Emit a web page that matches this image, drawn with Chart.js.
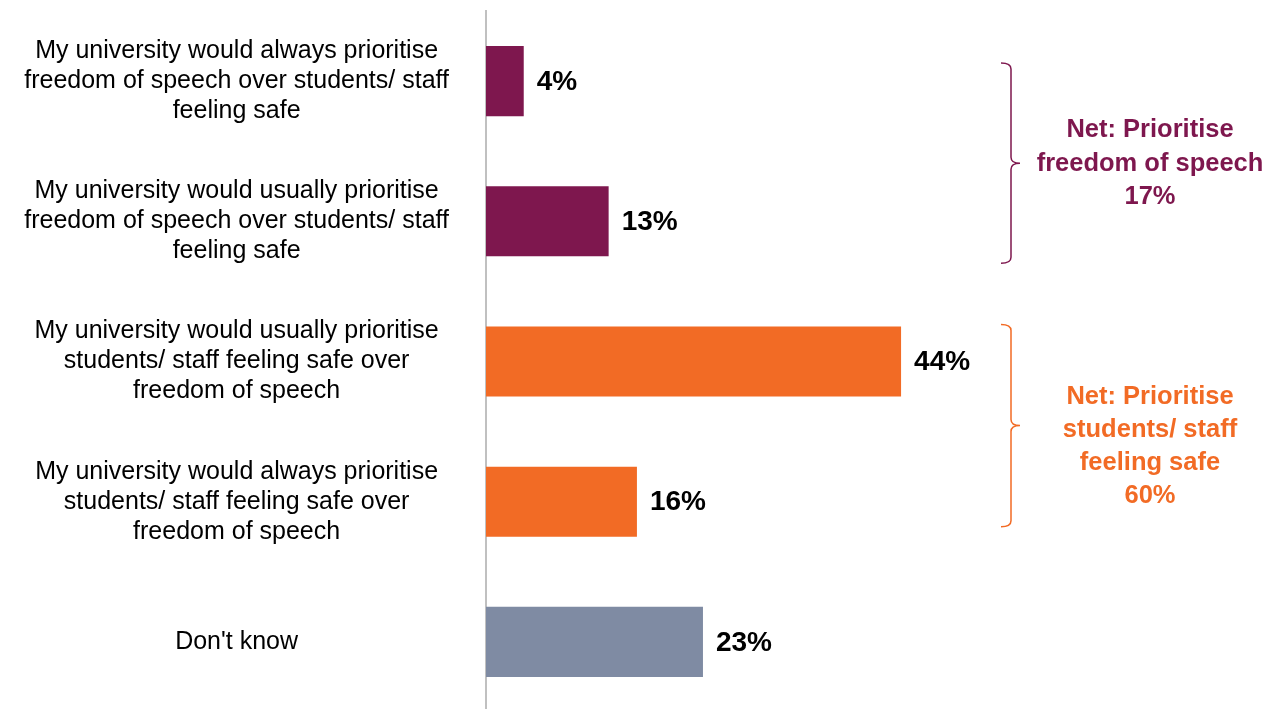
<!DOCTYPE html>
<html>
<head>
<meta charset="utf-8">
<script src="https://cdn.jsdelivr.net/npm/chart.js@4"></script>
<style>
  html, body { margin: 0; padding: 0; background: #fff; overflow: hidden; }
  #wrap { position: relative; width: 1279px; height: 712px; }
</style>
</head>
<body>
<div id="wrap"><canvas id="grafico"></canvas></div>
<script>
const categorias = [
  ["My university would always prioritise", "freedom of speech over students/ staff", "feeling safe"],
  ["My university would usually prioritise", "freedom of speech over students/ staff", "feeling safe"],
  ["My university would usually prioritise", "students/ staff feeling safe over", "freedom of speech"],
  ["My university would always prioritise", "students/ staff feeling safe over", "freedom of speech"],
  "Don't know"
];
const valores = [4, 13, 44, 16, 23];
const cores = ["#7E174E", "#7E174E", "#F26B25", "#F26B25", "#7F8BA3"];

// grupos "Net" com as barras que somam
const grupos = [
  { titulo: ["Net: Prioritise", "freedom of speech"], barras: [0, 1], cor: "#7E174E", topo: -18, base: 42, textoY: [130, 164, 197] },
  { titulo: ["Net: Prioritise", "students/ staff", "feeling safe"], barras: [2, 3], cor: "#F26B25", topo: -37, base: 25, textoY: [397, 430, 463, 496] }
];

const FONTE = "'Liberation Sans', Arial, sans-serif";

const rotulosValor = {
  id: "rotulosValor",
  afterDatasetsDraw(chart) {
    const ctx = chart.ctx;
    const meta = chart.getDatasetMeta(0);
    ctx.save();
    ctx.font = "bold 28px " + FONTE;
    ctx.fillStyle = "#000";
    ctx.textAlign = "left";
    ctx.textBaseline = "middle";
    meta.data.forEach((bar, i) => {
      ctx.fillText(valores[i] + "%", bar.x + 13, bar.y + 1);
    });
    ctx.restore();
  }
};

const chaves = {
  id: "chaves",
  afterDraw(chart) {
    const ctx = chart.ctx;
    const y = chart.scales.y;
    const xLinha = chart.chartArea.right - 41;
    grupos.forEach((g) => {
      const topo = y.getPixelForValue(g.barras[0]) + g.topo;
      const base = y.getPixelForValue(g.barras[g.barras.length - 1]) + g.base;
      const meio = (topo + base) / 2;
      ctx.save();
      ctx.strokeStyle = g.cor;
      ctx.lineWidth = 1.5;
      ctx.beginPath();
      ctx.moveTo(xLinha - 10, topo);
      ctx.quadraticCurveTo(xLinha, topo, xLinha, topo + 6);
      ctx.lineTo(xLinha, meio - 6);
      ctx.quadraticCurveTo(xLinha, meio, xLinha + 9, meio);
      ctx.quadraticCurveTo(xLinha, meio, xLinha, meio + 6);
      ctx.lineTo(xLinha, base - 6);
      ctx.quadraticCurveTo(xLinha, base, xLinha - 10, base);
      ctx.stroke();

      const total = g.barras.reduce((s, i) => s + valores[i], 0);
      const linhas = g.titulo.concat([total + "%"]);
      ctx.font = "bold 25.5px " + FONTE;
      ctx.fillStyle = g.cor;
      ctx.textAlign = "center";
      ctx.textBaseline = "middle";
      linhas.forEach((t, i) => ctx.fillText(t, xLinha + 139, g.textoY[i]));
      ctx.restore();
    });
  }
};

const ctx = document.getElementById("grafico").getContext("2d");
new Chart(ctx, {
  type: "bar",
  data: {
    labels: categorias,
    datasets: [{
      data: valores,
      backgroundColor: cores,
      borderWidth: 0,
      barPercentage: 0.5,
      categoryPercentage: 1
    }]
  },
  options: {
    indexAxis: "y",
    responsive: true,
    maintainAspectRatio: false,
    animation: false,
    layout: { padding: { top: 11, right: 227, bottom: 0, left: 0 } },
    plugins: { legend: { display: false }, tooltip: { enabled: false } },
    scales: {
      x: { display: false, min: 0, max: 60 },
      y: {
        grid: { display: false, drawTicks: false },
        border: { display: true, color: "#C0C0C0", width: 2 },
        ticks: {
          crossAlign: "center",
          padding: 37,
          color: "#000",
          font: { family: FONTE, size: 25, lineHeight: 1.2 }
        },
        afterFit(scale) {
          scale.width = 486;
          // sem folga extra em cima/embaixo para os rótulos de várias linhas
          scale.paddingTop = 0;
          scale.paddingBottom = 0;
        }
      }
    }
  },
  plugins: [rotulosValor, chaves]
});
</script>
</body>
</html>
